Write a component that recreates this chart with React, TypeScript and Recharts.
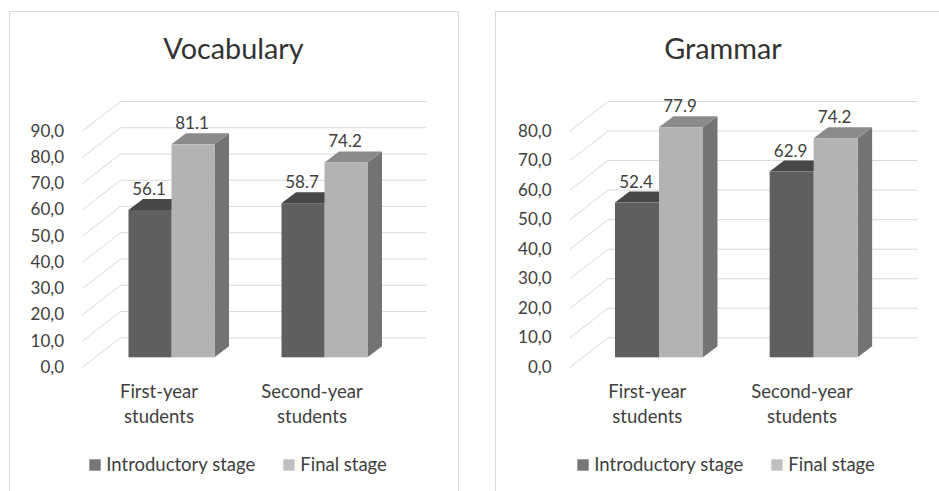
import React from 'react';
import { BarChart, Bar, XAxis, YAxis, CartesianGrid, LabelList, Legend } from 'recharts';

const categories = ['First-year students', 'Second-year students'];
const seriesNames = ['Introductory stage', 'Final stage'];
const vocabularyIntroductory = [56.1, 58.7];
const vocabularyFinal = [81.1, 74.2];
const grammarIntroductory = [52.4, 62.9];
const grammarFinal = [77.9, 74.2];
const vocabularyTicks = [0, 10, 20, 30, 40, 50, 60, 70, 80, 90];
const grammarTicks = [0, 10, 20, 30, 40, 50, 60, 70, 80];

const FONT = 'Lato, "Open Sans", sans-serif';
const TEXT = '#404040';
const GRID = '#d9d9d9';
const DEPTH = { dx: 14.5, dy: -11 };
const BACK = { dx: 26, dy: -19.5 };
const FRONT = { dx: -12, dy: 10 };

const introColors = { front: '#5f5f5f', top: '#464846', side: '#4e4e4e' };
const finalColors = { front: '#b3b3b3', top: '#8b8b8b', side: '#737373' };
const legendColors = ['#77777a', '#bfbfc2'];

const makeBox = (c: { front: string; top: string; side: string }) => (props: any) => {
  const { x, y, width, height } = props;
  if (x == null || y == null) return <g />;
  const { dx, dy } = DEPTH;
  const top = `${x},${y} ${x + dx},${y + dy} ${x + width + dx},${y + dy} ${x + width},${y}`;
  const side = `${x + width},${y} ${x + width + dx},${y + dy} ${x + width + dx},${y + height + dy} ${x + width},${y + height}`;
  return (
    <g>
      <polygon points={side} fill={c.side} />
      <polygon points={top} fill={c.top} />
      <rect x={x} y={y} width={width} height={height} fill={c.front} />
    </g>
  );
};

const introShape = makeBox(introColors);
const finalShape = makeBox(finalColors);

const gridLine = (props: any) => {
  const { x1, y1, x2, y2, index } = props;
  return (
    <g key={`grid-${index}-${y1}`}>
      <line x1={x1 + BACK.dx} y1={y1 + BACK.dy} x2={x2 + BACK.dx} y2={y2 + BACK.dy} stroke={GRID} strokeWidth={1} />
      <line x1={x1 + FRONT.dx} y1={y1 + FRONT.dy} x2={x1 + BACK.dx} y2={y1 + BACK.dy} stroke={GRID} strokeWidth={1} />
    </g>
  );
};

const yTick = (props: any) => {
  const { x, y, payload } = props;
  const label = Number(payload.value).toFixed(1).replace('.', ',');
  return (
    <text x={x - 30.5} y={y + 15.5} textAnchor="end" fontFamily={FONT} fontSize={17} fill={TEXT}>
      {label}
    </text>
  );
};

const xTick = (props: any) => {
  const { x, y, payload } = props;
  const s = String(payload.value);
  const i = s.indexOf(' ');
  const l1 = s.slice(0, i);
  const l2 = s.slice(i + 1);
  return (
    <text textAnchor="middle" fontFamily={FONT} fontSize={18.5} fill={TEXT}>
      <tspan x={x + FRONT.dx} y={y + 41}>{l1}</tspan>
      <tspan x={x + FRONT.dx} y={y + 65.4}>{l2}</tspan>
    </text>
  );
};

const valueLabel = (props: any) => {
  const { x, y, width, value } = props;
  return (
    <text x={x + width / 2 - 1} y={y - 15} textAnchor="middle" fontFamily={FONT} fontSize={17} fill={TEXT}>
      {Number(value).toFixed(1)}
    </text>
  );
};

type PanelProps = {
  left: number;
  width: number;
  title: string;
  titleCenter: number;
  intro: number[];
  final: number[];
  ticks: number[];
  barSize: number;
  plotLeft: number;
  plotRight: number;
  legendX: number;
};

function Panel(p: PanelProps) {
  const data = categories.map((c, i) => ({ category: c, intro: p.intro[i], final: p.final[i] }));
  const max = p.ticks[p.ticks.length - 1];
  const legendContent = () => {
    const offs = [0, 194];
    return (
      <svg width={p.width} height={30}>
        {seriesNames.map((name, i) => (
          <g key={name}>
            <rect x={p.legendX + offs[i]} y={9.3} width={11.4} height={11.4} fill={legendColors[i]} />
            <text x={p.legendX + offs[i] + 17} y={20.8} fontFamily={FONT} fontSize={18.5} fill={TEXT}>
              {name}
            </text>
          </g>
        ))}
      </svg>
    );
  };
  return (
    <div style={{ position: 'absolute', left: p.left, top: 0, width: p.width, height: 491 }}>
      <svg style={{ position: 'absolute', left: 0, top: 0 }} width={p.width} height={80}>
        <text x={p.titleCenter} y={59.3} textAnchor="middle" fontFamily={FONT} fontSize={28.8} fill="#333333">
          {p.title}
        </text>
      </svg>
      <BarChart
        width={p.width}
        height={491}
        data={data}
        margin={{ top: 121, bottom: 132.7, left: p.plotLeft - 1, right: p.width - p.plotRight }}
        barGap={0}
        barSize={p.barSize}
      >
        <CartesianGrid vertical={false} horizontal={gridLine} fill="none" />
        <XAxis
          dataKey="category"
          height={1}
          axisLine={false}
          tickLine={false}
          tickSize={0}
          tickMargin={0}
          interval={0}
          tick={xTick}
        />
        <YAxis
          width={1}
          domain={[0, max]}
          ticks={p.ticks}
          interval={0}
          axisLine={false}
          tickLine={false}
          tickSize={0}
          tickMargin={0}
          tick={yTick}
        />
        <Bar dataKey="intro" name={seriesNames[0]} fill={legendColors[0]} shape={introShape} isAnimationActive={false}>
          <LabelList dataKey="intro" content={valueLabel} />
        </Bar>
        <Bar dataKey="final" name={seriesNames[1]} fill={legendColors[1]} shape={finalShape} isAnimationActive={false}>
          <LabelList dataKey="final" content={valueLabel} />
        </Bar>
        <Legend
          verticalAlign="middle"
          align="center"
          layout="horizontal"
          wrapperStyle={{ top: 450, left: 0, width: p.width, height: 30 }}
          content={legendContent}
        />
      </BarChart>
    </div>
  );
}

export default function App() {
  return (
    <div
      style={{
        position: 'absolute',
        left: 0,
        top: 0,
        width: 939,
        height: 491,
        overflow: 'hidden',
        background: '#ffffff',
      }}
    >
      <div style={{ position: 'absolute', left: 9, top: 11, width: 448, height: 520, border: `1px solid ${GRID}` }} />
      <div style={{ position: 'absolute', left: 495, top: 11, width: 520, height: 520, border: `1px solid ${GRID}` }} />
      <Panel
        left={0}
        width={470}
        title="Vocabulary"
        titleCenter={233.5}
        intro={vocabularyIntroductory}
        final={vocabularyFinal}
        ticks={vocabularyTicks}
        barSize={43}
        plotLeft={94.5}
        plotRight={400.5}
        legendX={89.3}
      />
      <Panel
        left={470}
        width={469}
        title="Grammar"
        titleCenter={253}
        intro={grammarIntroductory}
        final={grammarFinal}
        ticks={grammarTicks}
        barSize={44}
        plotLeft={112}
        plotRight={421.3}
        legendX={107.3}
      />
    </div>
  );
}
